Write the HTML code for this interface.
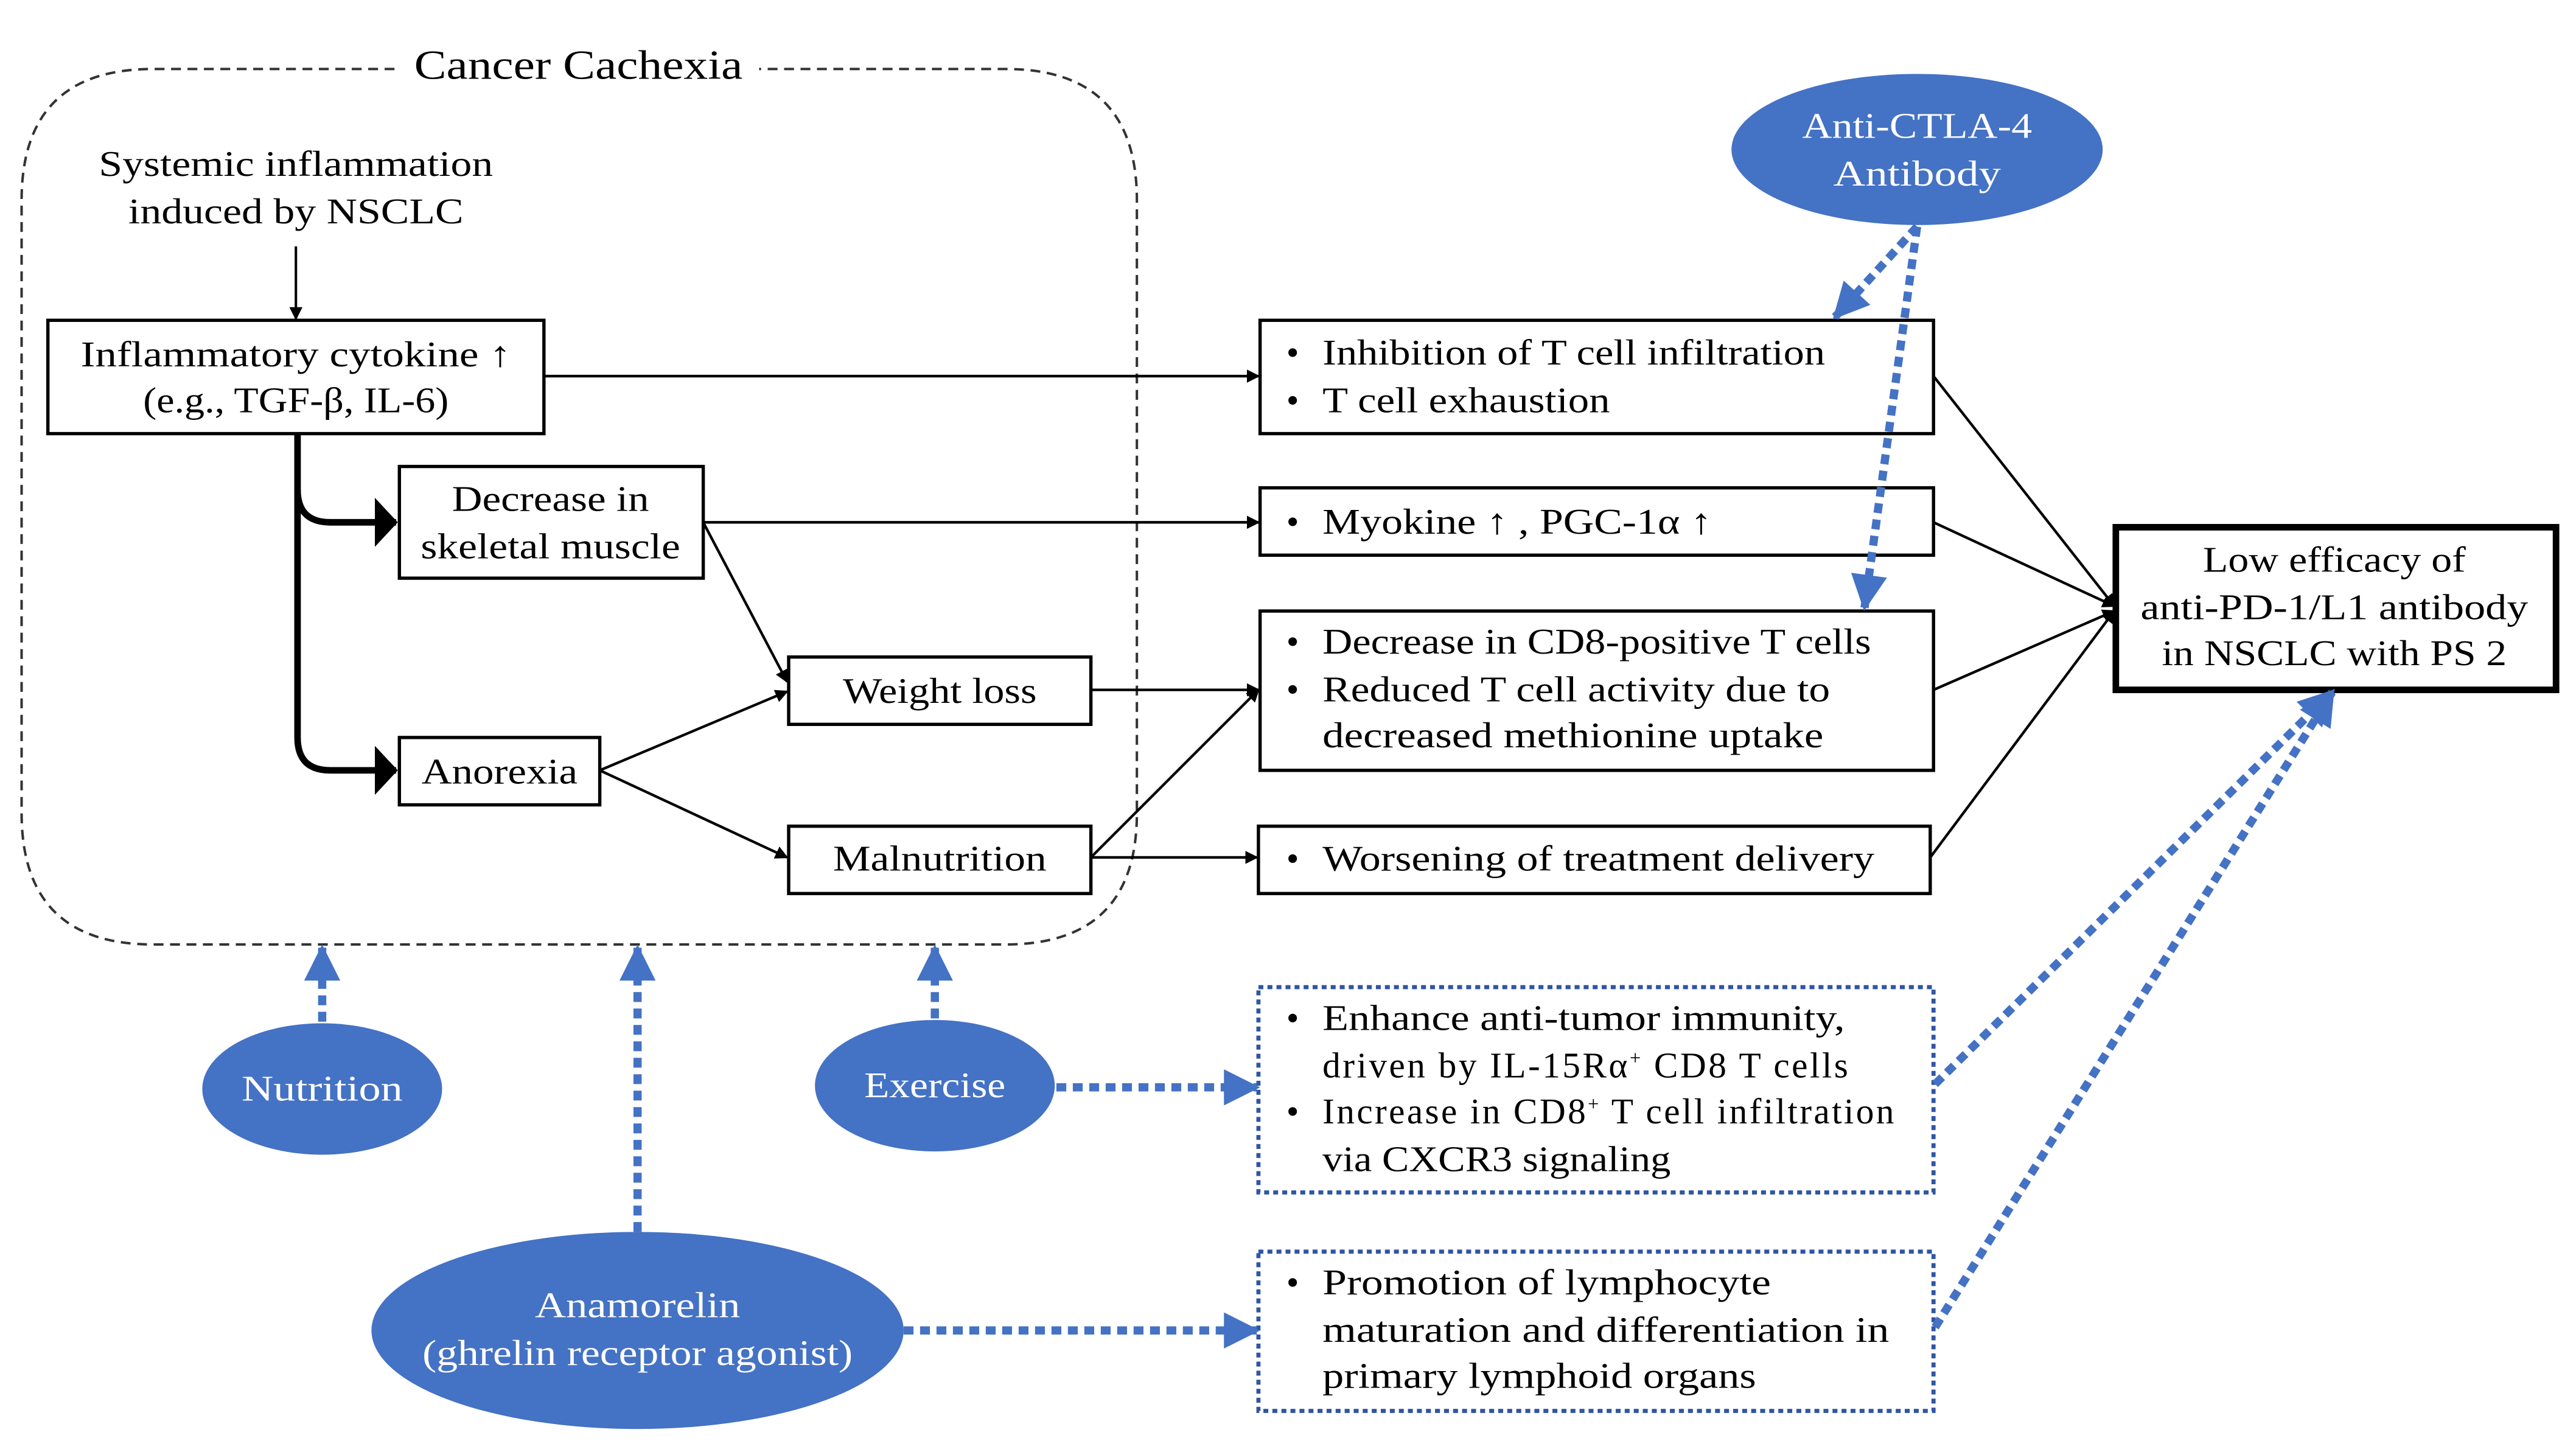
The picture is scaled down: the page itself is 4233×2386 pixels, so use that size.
<!DOCTYPE html>
<html><head><meta charset="utf-8"><style>html,body{margin:0;padding:0;background:#fff}svg{display:block}</style></head>
<body>
<svg width="4233" height="2386" viewBox="0 0 1568 884" xmlns="http://www.w3.org/2000/svg" font-family="'Liberation Serif', serif" font-size="22">
<defs>
<marker id="ab" markerWidth="8" markerHeight="8" refX="7" refY="4" orient="auto" markerUnits="userSpaceOnUse"><path d="M0,0 L8,4 L0,8 z" fill="#000"/></marker>
<marker id="big" markerWidth="14" markerHeight="30" refX="13" refY="15" orient="auto" markerUnits="userSpaceOnUse"><path d="M0,0 L14,15 L0,30 z" fill="#000"/></marker>
<marker id="bl" markerWidth="22" markerHeight="22" refX="20" refY="11" orient="auto" markerUnits="userSpaceOnUse"><path d="M0,0 L22,11 L0,22 z" fill="#4472C4"/></marker>
</defs>
<rect width="1568" height="884" fill="#fff"/>
<!-- cachexia dashed frame -->
<path d="M240,42 L93,42 Q13,42 13,122 L13,495 Q13,575 93,575 L612,575 Q692,575 692,495 L692,122 Q692,42 612,42 L462,42" fill="none" stroke="#333" stroke-width="1.5" stroke-dasharray="6,4"/>
<text x="352" y="48" text-anchor="middle" font-size="25" textLength="200" lengthAdjust="spacingAndGlyphs">Cancer Cachexia</text>
<text x="180" y="107" text-anchor="middle" textLength="240" lengthAdjust="spacingAndGlyphs">Systemic inflammation</text>
<text x="180" y="136" text-anchor="middle" textLength="204" lengthAdjust="spacingAndGlyphs">induced by NSCLC</text>
<line x1="180" y1="150" x2="180" y2="194" stroke="#000" stroke-width="1.5" marker-end="url(#ab)"/>
<g fill="#fff" stroke="#000" stroke-width="2">
<rect x="29" y="195" width="302" height="69"/>
<rect x="243" y="284" width="185" height="68"/>
<rect x="480" y="400" width="184" height="41"/>
<rect x="243" y="449" width="122" height="41"/>
<rect x="480" y="503" width="184" height="41"/>
<rect x="767" y="195" width="410" height="69"/>
<rect x="767" y="297" width="410" height="41"/>
<rect x="767" y="372" width="410" height="97"/>
<rect x="766" y="503" width="409" height="41"/>
<rect x="1288" y="321" width="268" height="99" stroke-width="4"/>
</g>
<g font-size="22">
<text x="180" y="223" text-anchor="middle" textLength="262" lengthAdjust="spacingAndGlyphs">Inflammatory cytokine ↑</text>
<text x="180" y="251" text-anchor="middle" textLength="186" lengthAdjust="spacingAndGlyphs">(e.g., TGF-β, IL-6)</text>
<text x="335" y="311" text-anchor="middle" textLength="120" lengthAdjust="spacingAndGlyphs">Decrease in</text>
<text x="335" y="340" text-anchor="middle" textLength="158" lengthAdjust="spacingAndGlyphs">skeletal muscle</text>
<text x="572" y="428" text-anchor="middle" textLength="118" lengthAdjust="spacingAndGlyphs">Weight loss</text>
<text x="304" y="477" text-anchor="middle" textLength="95" lengthAdjust="spacingAndGlyphs">Anorexia</text>
<text x="572" y="530" text-anchor="middle" textLength="130" lengthAdjust="spacingAndGlyphs">Malnutrition</text>
<text x="783" y="222">•</text><text x="805" y="222" textLength="306" lengthAdjust="spacingAndGlyphs">Inhibition of T cell infiltration</text>
<text x="783" y="251">•</text><text x="805" y="251" textLength="175" lengthAdjust="spacingAndGlyphs">T cell exhaustion</text>
<text x="783" y="325">•</text><text x="805" y="325" textLength="237" lengthAdjust="spacingAndGlyphs">Myokine ↑ , PGC-1α ↑</text>
<text x="783" y="398">•</text><text x="805" y="398" textLength="334" lengthAdjust="spacingAndGlyphs">Decrease in CD8-positive T cells</text>
<text x="783" y="427">•</text><text x="805" y="427" textLength="309" lengthAdjust="spacingAndGlyphs">Reduced T cell activity due to</text>
<text x="805" y="455" textLength="305" lengthAdjust="spacingAndGlyphs">decreased methionine uptake</text>
<text x="783" y="530">•</text><text x="805" y="530" textLength="336" lengthAdjust="spacingAndGlyphs">Worsening of treatment delivery</text>
<text x="1421" y="348" text-anchor="middle" textLength="160" lengthAdjust="spacingAndGlyphs">Low efficacy of</text>
<text x="1421" y="377" text-anchor="middle" textLength="236" lengthAdjust="spacingAndGlyphs">anti-PD-1/L1 antibody</text>
<text x="1421" y="405" text-anchor="middle" textLength="210" lengthAdjust="spacingAndGlyphs">in NSCLC with PS 2</text>
</g>
<!-- thick curved arrows -->
<path d="M181,264 L181,298 Q181,318 201,318 L241,318" fill="none" stroke="#000" stroke-width="4" marker-end="url(#big)"/>
<path d="M181,298 L181,449 Q181,469 201,469 L241,469" fill="none" stroke="#000" stroke-width="4" marker-end="url(#big)"/>
<!-- black connectors -->
<g stroke="#000" stroke-width="1.6" fill="none" marker-end="url(#ab)">
<line x1="331" y1="229" x2="766" y2="229"/>
<line x1="428" y1="318" x2="766" y2="318"/>
<line x1="428" y1="318" x2="479" y2="415"/>
<line x1="365" y1="469" x2="479" y2="421"/>
<line x1="365" y1="469" x2="479" y2="522"/>
<line x1="664" y1="420" x2="766" y2="420"/>
<line x1="664" y1="522" x2="766" y2="420"/>
<line x1="664" y1="522" x2="765" y2="522"/>
<line x1="1177" y1="229" x2="1287" y2="369"/>
<line x1="1177" y1="318" x2="1287" y2="369"/>
<line x1="1177" y1="420" x2="1287" y2="372"/>
<line x1="1175" y1="522" x2="1287" y2="372"/>
</g>
<!-- blue ellipses -->
<g fill="#4472C4">
<ellipse cx="1167" cy="91" rx="113" ry="46"/>
<ellipse cx="196" cy="663" rx="73" ry="40"/>
<ellipse cx="569" cy="661" rx="73" ry="40"/>
<ellipse cx="388" cy="810" rx="162" ry="60"/>
</g>
<g fill="#fff" font-size="22" text-anchor="middle">
<text x="1167" y="84" textLength="140" lengthAdjust="spacingAndGlyphs">Anti-CTLA-4</text>
<text x="1167" y="113" textLength="102" lengthAdjust="spacingAndGlyphs">Antibody</text>
<text x="196" y="670" textLength="98" lengthAdjust="spacingAndGlyphs">Nutrition</text>
<text x="569" y="668" textLength="86" lengthAdjust="spacingAndGlyphs">Exercise</text>
<text x="388" y="802" textLength="125" lengthAdjust="spacingAndGlyphs">Anamorelin</text>
<text x="388" y="831" textLength="262" lengthAdjust="spacingAndGlyphs">(ghrelin receptor agonist)</text>
</g>
<!-- dotted boxes -->
<g fill="none" stroke="#2F55A4" stroke-width="2.5" stroke-dasharray="3,2.5">
<rect x="766" y="601" width="411" height="125"/>
<rect x="766" y="762" width="411" height="97"/>
</g>
<g font-size="22">
<text x="783" y="627">•</text><text x="805" y="627" textLength="318" lengthAdjust="spacingAndGlyphs">Enhance anti-tumor immunity,</text>
<text x="805" y="656" textLength="320">driven by IL-15Rα<tspan font-size="12" dy="-8">+</tspan><tspan dy="8"> CD8 T cells</tspan></text>
<text x="783" y="684">•</text><text x="805" y="684" textLength="348">Increase in CD8<tspan font-size="12" dy="-8">+</tspan><tspan dy="8"> T cell infiltration</tspan></text>
<text x="805" y="713" textLength="212" lengthAdjust="spacingAndGlyphs">via CXCR3 signaling</text>
<text x="783" y="788">•</text><text x="805" y="788" textLength="273" lengthAdjust="spacingAndGlyphs">Promotion of  lymphocyte</text>
<text x="805" y="817" textLength="345" lengthAdjust="spacingAndGlyphs">maturation and differentiation in</text>
<text x="805" y="845" textLength="264" lengthAdjust="spacingAndGlyphs">primary lymphoid organs</text>
</g>
<!-- blue dotted arrows -->
<g stroke="#4472C4" stroke-width="5" stroke-dasharray="6,4" fill="none" marker-end="url(#bl)">
<line x1="196" y1="622" x2="196" y2="577"/>
<line x1="388" y1="750" x2="388" y2="577"/>
<line x1="569" y1="620" x2="569" y2="577"/>
<line x1="643" y1="662" x2="765" y2="662"/>
<line x1="550" y1="810" x2="765" y2="810"/>
<line x1="1178" y1="660" x2="1420" y2="421"/>
<line x1="1178" y1="808" x2="1420" y2="421"/>
<line x1="1167" y1="138" x2="1117" y2="193"/>
<line x1="1167" y1="138" x2="1135" y2="370"/>
</g>
</svg>
</body></html>
